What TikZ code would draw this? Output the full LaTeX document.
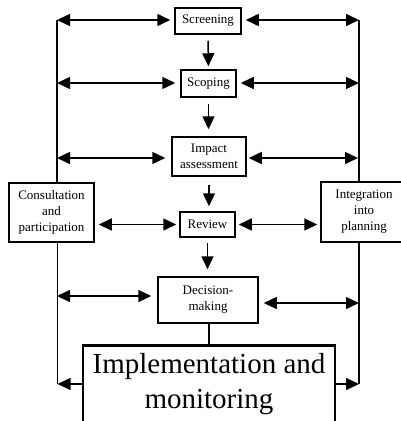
\documentclass[tikz,border=0pt]{standalone}
\usepackage{fontspec}
\setmainfont{Liberation Serif}
\usetikzlibrary{arrows.meta}
\begin{document}
\begin{tikzpicture}[x=1pt,y=-1pt,
  stage/.style={draw,line width=1.5pt,inner sep=0pt,align=center,
    font=\fontsize{13}{16}\selectfont},
  link/.style={line width=1.5pt},
  flow/.style={link,-{Triangle[length=13pt,width=12pt]}},
  both/.style={link,{Triangle[length=13pt,width=12pt]}-{Triangle[length=13pt,width=12pt]}},
]
\useasboundingbox (0,0) rectangle (400,421);

% main sequence of stages
\node[stage,minimum width=66pt,minimum height=26pt] (screen) at (208,21) {Screening};
\node[stage,minimum width=55pt,minimum height=27pt] (scope) at (208.5,83.5) {Scoping};
\node[stage,minimum width=74pt,minimum height=39pt] (impact) at (209,156.5) {Impact\\assessment};
\node[stage,minimum width=55pt,minimum height=25pt] (review) at (207.5,224.5) {Review};
\node[stage,minimum width=100pt,minimum height=46pt] (decide) at (208,300) {Decision-\\making};
\node[draw,line width=2.6pt,inner sep=0pt,align=center,minimum width=252pt,minimum height=77pt,
  font=\fontsize{29}{35}\selectfont] (implement) at (209,384) {Implementation and\\monitoring};

% side boxes
\node[stage,minimum width=85pt,minimum height=59pt] (consult) at (51.5,212.5) {Consultation\\and\\participation};
\node[stage,minimum width=86pt,minimum height=60pt] (integ) at (364,212) {Integration\\into\\planning};

% vertical rails
\coordinate (LT) at (57,20);
\coordinate (LB) at (57.5,384);
\coordinate (RT) at (359,20);
\coordinate (RB) at (359,384);
\draw[link] (LT) -- (LT |- consult.north);
\draw[link] (LB |- consult.south) -- (LB);
\draw[link] (RT) -- (RT |- integ.north);
\draw[link] (RB |- integ.south) -- (RB);

% flow down the stages
\draw[flow,shorten <=6pt,shorten >=3pt] (screen) -- (scope);
\draw[flow,shorten <=6pt,shorten >=7pt] (scope.south) -- (scope.south |- impact.north);
\draw[flow,shorten <=8pt,shorten >=5pt] (impact.south) -- (impact.south |- review.north);
\draw[flow,shorten <=5pt,shorten >=7pt] (review.south) -- (review.south |- decide.north);
\draw[link] (decide.south -| implement.north) -- (implement.north);

% exchanges with the rails
\coordinate (a1) at (57,20);   \coordinate (b1) at (359,20);
\coordinate (a2) at (57,83);   \coordinate (b2) at (359,83);
\coordinate (a3) at (57,158);  \coordinate (b3) at (358,158);
\coordinate (a5) at (57,296);  \coordinate (b5) at (359,303);
\draw[both,shorten >=4pt] (a1) -- (a1 -| screen.west);
\draw[both,shorten <=4pt] (b1 -| screen.east) -- (b1);
\draw[both,shorten >=5pt] (a2) -- (a2 -| scope.west);
\draw[both,shorten <=4pt] (b2 -| scope.east) -- (b2);
\draw[both,shorten >=6pt] (a3) -- (a3 -| impact.west);
\draw[both,shorten <=2pt] (b3 -| impact.east) -- (b3);
\draw[both,shorten <=4pt,shorten >=3pt] (consult.east |- review.west) -- (review.west);
\draw[both,shorten <=3pt,shorten >=3pt] (review.east) -- (review.east -| integ.west);
\draw[both,shorten >=6pt] (a5) -- (a5 -| decide.west);
\draw[both,shorten <=5pt] (b5 -| decide.east) -- (b5);
\draw[flow] (LB -| implement.west) -- (LB);
\draw[flow] (RB -| implement.east) -- (RB);
\end{tikzpicture}
\end{document}
